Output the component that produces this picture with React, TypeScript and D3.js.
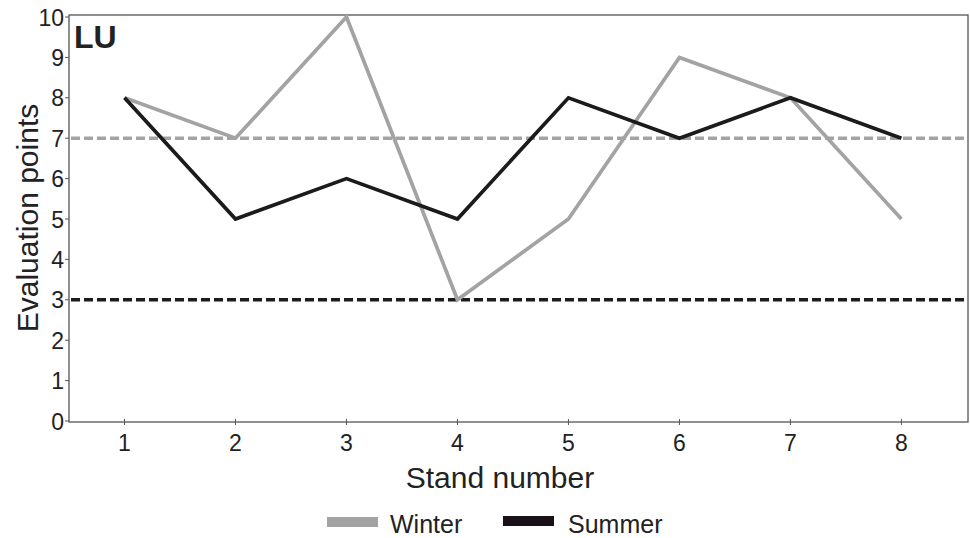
import React from "react";
import * as d3 from "d3";

const stands = [1, 2, 3, 4, 5, 6, 7, 8];
const winter = [8, 7, 10, 3, 5, 9, 8, 5];
const summer = [8, 5, 6, 5, 8, 7, 8, 7];
const yTicks = [0, 1, 2, 3, 4, 5, 6, 7, 8, 9, 10];
const refWinter = 7;
const refSummer = 3;
const seriesNames = ["Winter", "Summer"];

const W = 970, H = 538;
const L = 69, R = 968, T = 15, B = 422;
const GRAY = "#a3a3a3";
const DARK = "#1c1a1c";
const FONT = "'Liberation Sans', Arial, sans-serif";

export default function App() {
  const x = d3.scaleLinear().domain([0.5, 8.6]).range([L, R]);
  const y = d3.scaleLinear().domain([0, 10]).range([421, 17]);
  const line = d3
    .line<number>()
    .x((_, i) => x(stands[i]))
    .y((d) => y(d));

  return (
    <svg width={W} height={H} style={{ position: "absolute", left: 0, top: 0, background: "#fff" }}>
      <rect x={L} y={T} width={R - L} height={B - T} fill="none" stroke="#555" strokeWidth={1.3} />
      {yTicks.map((t) => (
        <g key={t}>
          <line x1={L - 4} x2={L} y1={y(t)} y2={y(t)} stroke="#555" strokeWidth={1} />
          <text x={L - 5} y={y(t) + 8.5} textAnchor="end" fontFamily={FONT} fontSize={23} fill="#222">
            {t}
          </text>
        </g>
      ))}
      {stands.map((s) => (
        <g key={s}>
          <line x1={x(s)} x2={x(s)} y1={B - 3} y2={B + 3} stroke="#555" strokeWidth={1} />
          <text x={x(s)} y={B + 29} textAnchor="middle" fontFamily={FONT} fontSize={23} fill="#222">
            {s}
          </text>
        </g>
      ))}
      <line x1={L + 2} x2={R - 2} y1={y(refWinter)} y2={y(refWinter)} stroke={GRAY} strokeWidth={3.5} strokeDasharray="9 4" />
      <line x1={L + 2} x2={R - 2} y1={y(refSummer)} y2={y(refSummer)} stroke={DARK} strokeWidth={3.5} strokeDasharray="9 4" />
      <path d={line(winter) || ""} fill="none" stroke={GRAY} strokeWidth={3.7} strokeLinejoin="miter" />
      <path d={line(summer) || ""} fill="none" stroke={DARK} strokeWidth={3.7} strokeLinejoin="miter" />
      <text x={74} y={48} fontFamily={FONT} fontSize={32} fontWeight="bold" fill="#222">
        LU
      </text>
      <text x={500} y={488} textAnchor="middle" fontFamily={FONT} fontSize={30} fill="#222">
        Stand number
      </text>
      <text
        transform={`translate(38, ${218}) rotate(-90)`}
        textAnchor="middle"
        fontFamily={FONT}
        fontSize={30}
        fill="#222"
      >
        Evaluation points
      </text>
      <rect x={327} y={517} width={51} height={10} fill={GRAY} />
      <text x={390} y={533} fontFamily={FONT} fontSize={25} fill="#222">
        {seriesNames[0]}
      </text>
      <rect x={503} y={516} width={51} height={10} fill="#1a1018" />
      <text x={568} y={533} fontFamily={FONT} fontSize={25} fill="#222">
        {seriesNames[1]}
      </text>
    </svg>
  );
}
